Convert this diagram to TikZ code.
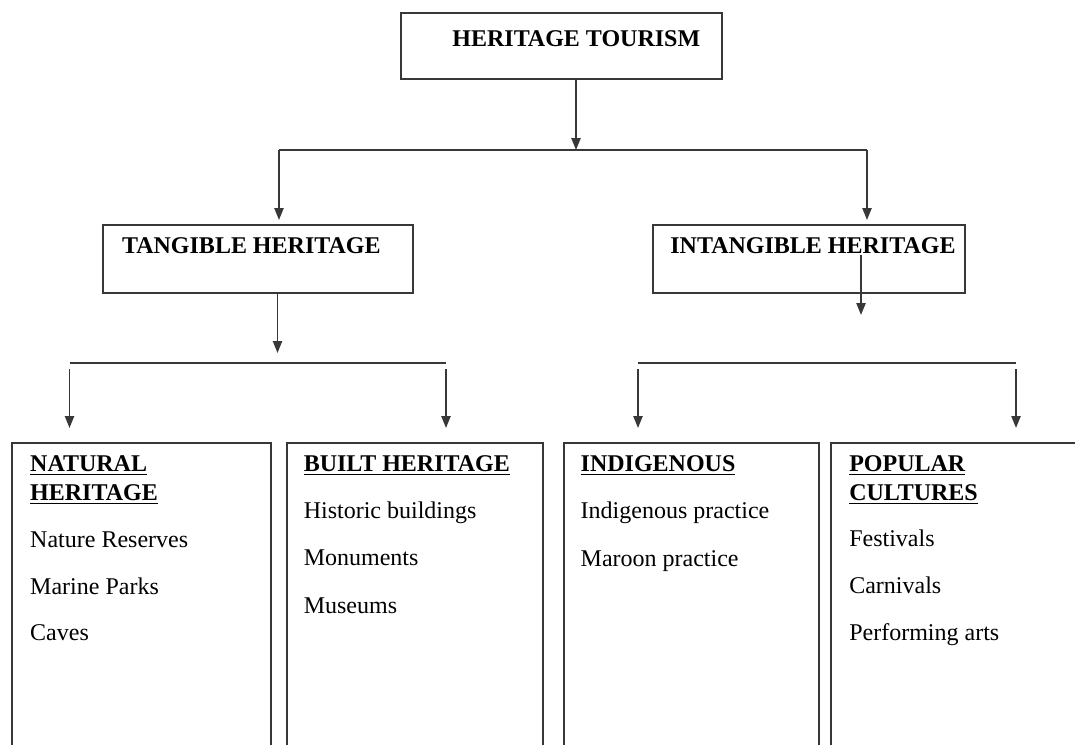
\documentclass[tikz,border=0pt]{standalone}
\usepackage{fontspec}
\setmainfont{Liberation Serif}
\usetikzlibrary{arrows.meta,fit}

\definecolor{rulegray}{gray}{0.22}

\tikzset{
  box/.style={draw=rulegray, line width=1pt, inner sep=0pt},
  title/.style={font=\fontsize{12}{14}\selectfont\bfseries, inner sep=0pt, anchor=base west},
  heading/.style={title},
  item/.style={font=\fontsize{12}{14}\selectfont, inner sep=0pt, anchor=base west},
  link/.style={draw=rulegray, line width=0.9pt},
  arrow/.style={link, -{Triangle[length=6pt,width=4.6pt]}},
}

\begin{document}
\begin{tikzpicture}[x=0.5pt,y=-0.5pt]
  \path[use as bounding box] (0,0) rectangle (1075,744);
  \clip (0,0) rectangle (1075,744);

  % top
  \node[box, fit={(401,13) (722,79)}] (tourism) {};
  \node[title] (tourismtxt) at (452,46.7) {HERITAGE TOURISM};

  % the two branches
  \node[box, fit={(103,225) (413,293)}] (tangible) {};
  \node[title] (tangibletxt) at (121.7,253) {TANGIBLE HERITAGE};
  \node[box, fit={(653,225) (965,293)}] (intangible) {};
  \node[title] (intangibletxt) at (670,253) {INTANGIBLE HERITAGE};

  % bottom row, boxes run past the lower edge
  \node[box, fit={(11.7,443) (270.7,800)}] (natural) {};
  \node[box, fit={(287,443) (543,800)}] (built) {};
  \node[box, fit={(563.5,443) (819,800)}] (indigenous) {};
  \node[box, fit={(831,443) (1100,800)}] (popular) {};

  \node[heading] (naturalhd) at (29.8,471.7) {\underline{NATURAL}};
  \node[heading] (naturalhd2) at (29.8,500) {\underline{HERITAGE}};
  \node[heading] (builthd) at (303.4,471.7) {\underline{BUILT HERITAGE}};
  \node[heading] (indigenoushd) at (580.3,471.7) {\underline{INDIGENOUS}};
  \node[heading] (popularhd) at (848.9,471.7) {\underline{POPULAR}};
  \node[heading] (popularhd2) at (848.9,500) {\underline{CULTURES}};

  \foreach \t [count=\i from 0] in {Nature Reserves, Marine Parks, Caves}
    \node[item] (natural\i) at (29.8,547.3+46.7*\i) {\t};
  \foreach \t [count=\i from 0] in {Historic buildings, Monuments, Museums}
    \node[item] (built\i) at (303.4,518.3+47.5*\i) {\t};
  \foreach \t [count=\i from 0] in {Indigenous practice, Maroon practice}
    \node[item] (indigenous\i) at (580.3,518.3+48.4*\i) {\t};
  \foreach \t [count=\i from 0] in {Festivals, Carnivals, Performing arts}
    \node[item] (popular\i) at (848.9,546.7+47*\i) {\t};

  % connectors
  \coordinate (split) at (576,150);
  \coordinate (tanleft) at (279,150);
  \coordinate (intright) at (867,150);
  \draw[arrow] (tourism.south -| split) -- (split);
  \draw[link] (tanleft) -- (intright);
  \draw[arrow, shorten >=2pt] (tanleft) -- (tanleft |- tangible.north);
  \draw[arrow, shorten >=2pt] (intright) -- (intright |- intangible.north);

  \coordinate (tansplit) at (277.5,353);
  \coordinate (natdrop) at (69.5,363);
  \coordinate (bltdrop) at (446,363);
  \draw[arrow] (tansplit |- tangible.south) -- (tansplit);
  \draw[link] (natdrop) -- (bltdrop);
  \draw[arrow, shorten <=3pt, shorten >=7pt] (natdrop) -- (natdrop |- natural.north);
  \draw[arrow, shorten <=3pt, shorten >=7pt] (bltdrop) -- (bltdrop |- built.north);

  \coordinate (intsplit) at (861,315);
  \coordinate (inddrop) at (638,363);
  \coordinate (popdrop) at (1016,363);
  \draw[arrow, shorten <=1pt] (intangibletxt.base -| intsplit) -- (intsplit);
  \draw[link] (inddrop) -- (popdrop);
  \draw[arrow, shorten <=3pt, shorten >=7pt] (inddrop) -- (inddrop |- indigenous.north);
  \draw[arrow, shorten <=3pt, shorten >=7pt] (popdrop) -- (popdrop |- popular.north);
\end{tikzpicture}
\end{document}
